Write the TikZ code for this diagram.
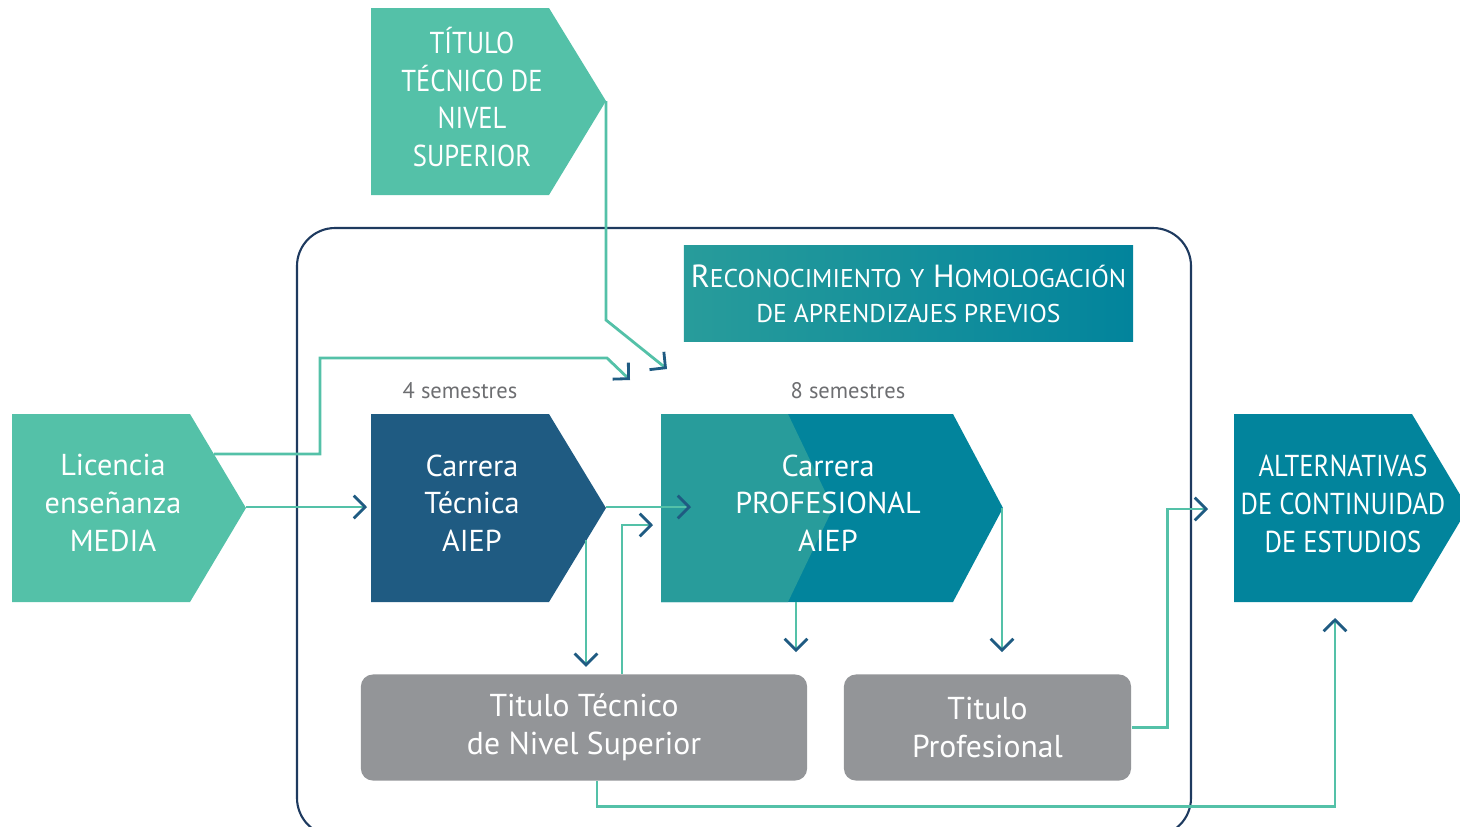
\documentclass[tikz,border=0pt]{standalone}
\usepackage{fontspec}
\setmainfont{PT Sans}
\newfontfamily\narrowcaps[FakeStretch=0.88]{PT Sans}
\usetikzlibrary{arrows.meta, positioning, calc}
\definecolor{mint}{HTML}{54C1A8}
\definecolor{navyblue}{HTML}{1F5B82}
\definecolor{tealA}{HTML}{289C9B}
\definecolor{tealB}{HTML}{02849C}
\definecolor{greybox}{HTML}{939598}
\definecolor{framec}{HTML}{1E3A5F}
\definecolor{semtext}{HTML}{6D6E71}
\newcommand{\smc}[1]{{\fontsize{7.3}{8}\selectfont #1}}
\tikzset{
    flow/.style={x=0.01cm, y=-0.01cm, font=\fontsize{8.6}{10.7}\selectfont},
    boxtext/.style={text=white, align=center, inner sep=0pt},
    capstext/.style={boxtext, font=\narrowcaps\fontsize{8.6}{10.7}\selectfont},
    titlebox/.style={boxtext, fill=greybox, rounded corners=0.12cm, minimum height=1.06cm, font=\fontsize{9}{10.8}\selectfont},
    recbox/.style={boxtext, left color=tealA, right color=tealB, minimum width=4.49cm, minimum height=0.95cm, font=\fontsize{9.1}{10}\selectfont},
    semestre/.style={text=semtext, font=\fontsize{6.4}{8}\selectfont},
    link/.style={draw=mint, line width=0.8pt, -{Straight Barb[length=3.2pt, width=6.5pt, line width=0.8pt, color=navyblue]}},
}
\begin{document}
\begin{tikzpicture}[flow]
    \useasboundingbox (0,0) rectangle (1460,826);
    \draw[framec, line width=0.6pt, rounded corners=0.38cm] (297,228) rectangle (1191,836);

    % chevrons
    \fill[mint] (371,8) -- (549,8) -- (606,101) -- (549,195) -- (371,195) -- cycle;
    \fill[mint] (12,414) -- (190,414) -- (246,508) -- (190,602) -- (12,602) -- cycle;
    \fill[navyblue] (371,414) -- (549,414) -- (606,508) -- (549,602) -- (371,602) -- cycle;
    \fill[tealB] (661,414) -- (953,414) -- (1003,508) -- (953,602) -- (661,602) -- cycle;
    \fill[tealA] (661,414) -- (788,414) -- (833,508) -- (788,602) -- (661,602) -- cycle;
    \fill[tealB] (1234,414) -- (1412,414) -- (1468,508) -- (1412,602) -- (1234,602) -- cycle;

    \node[capstext] (tit) at (472,97)  {TÍTULO\\TÉCNICO DE\\NIVEL\\SUPERIOR};
    \node[boxtext] (lic) at (113,503) {Licencia\\enseñanza\\MEDIA};
    \node[boxtext] (tec) at (472,503) {Carrera\\Técnica\\AIEP};
    \node[boxtext] (pro) at (828,503) {Carrera\\PROFESIONAL\\AIEP};
    \node[capstext] (alt) at (1343,504) {ALTERNATIVAS\\DE CONTINUIDAD\\DE ESTUDIOS};
    \node[recbox] (rec) at (908.5,293.5) {R\smc{ECONOCIMIENTO} \smc{Y} H\smc{OMOLOGACIÓN}\\\smc{DE APRENDIZAJES PREVIOS}};
    \node[titlebox, minimum width=4.46cm] (ttns) at (584,727.5) {Titulo Técnico\\de Nivel Superior};
    \node[titlebox, minimum width=2.87cm] (tpro) at (987.5,727.5) {Titulo\\Profesional};
    \node[semestre] (sem4) at (460,391) {4 semestres};
    \node[semestre] (sem8) at (848,391) {8 semestres};

    \coordinate (tit-tip) at (606,101);
    \coordinate (lic-up)  at (214,454);
    \coordinate (lic-tip) at (246,507);
    \coordinate (tec-tip) at (606,507);
    \coordinate (tec-low) at (586,540);
    \coordinate (pro-low) at (796,602);
    \coordinate (pro-tip) at (1002,508);
    \coordinate (rec-in1) at (667,369);
    \coordinate (rec-in2) at (630,380);
    \coordinate (tec-in)  at (367,507);
    \coordinate (pro-in)  at (691,507);
    \coordinate (pro-in2) at (653,525);
    \coordinate (alt-in)  at (1208,509);
    \coordinate (alt-up)  at (1335,618);

    \draw[link] (tit-tip) -- ++(0,219) -- (rec-in1);
    \draw[link] (lic-up) -- ++(106,0) -- ++(0,-96) -- ++(287,0) -- (rec-in2);
    \draw[link] (lic-tip) -- (tec-in);
    \draw[link] (tec-tip) -- (pro-in);
    \draw[link] (tec-low) -- ([yshift=0.07cm]tec-low |- ttns.north);
    \draw[link] ([xshift=0.38cm]ttns.north) |- (pro-in2);
    \draw[link] (pro-low) -- ++(0,50);
    \draw[link] (pro-tip) -- ++(0,144);

    % hacia alternativas
    \draw[link] (tpro.east) -- ++(36,0) |- (alt-in);
    \draw[link] ([xshift=0.13cm]ttns.south) -- ++(0,25) -| (alt-up);
\end{tikzpicture}
\end{document}
